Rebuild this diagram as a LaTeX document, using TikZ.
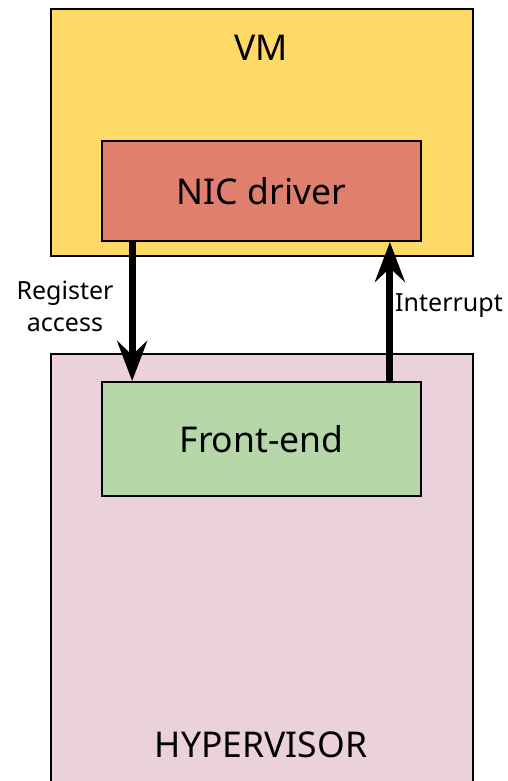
\documentclass[tikz,border=0pt]{standalone}
\usepackage{fontspec}
\setmainfont{Noto Sans}
\usetikzlibrary{calc,arrows.meta}

\tikzset{
  box/.style={draw=black,line width=2pt,inner sep=0pt},
  link/.style={line width=7pt,-{Stealth[length=40pt,width=30pt,inset=14pt]}},
  lab/.style={font=\fontsize{25}{32}\selectfont,align=center,inner sep=0pt}
}
\definecolor{vmyellow}{HTML}{FFD966}
\definecolor{nicred}{HTML}{E07F6E}
\definecolor{hyppink}{HTML}{EAD1DC}
\definecolor{fegreen}{HTML}{B6D7A8}

\begin{document}
\begin{tikzpicture}[x=1pt,y=-1pt]
  \useasboundingbox (0,0) rectangle (508,781);

  % outer boxes
  \node [box,fill=vmyellow,minimum width=422pt,minimum height=247pt,anchor=north west]
    (vm) at (50,8) {};
  \node [box,fill=hyppink,minimum width=422pt,minimum height=440pt,anchor=north west]
    (hyp) at (50,353) {};

  \node [font=\fontsize{35.5}{42}\selectfont] (vmlab) at (261,48) {VM};
  \node [font=\fontsize{35.5}{42}\selectfont] (hyplab) at (261,745) {HYPERVISOR};

  % inner boxes
  \node [box,fill=nicred,minimum width=319pt,minimum height=100pt,anchor=north west,
    font=\fontsize{35.5}{42}\selectfont] (nic) at (101,140) {NIC driver};
  \node [box,fill=fegreen,minimum width=319pt,minimum height=114pt,anchor=north west,
    font=\fontsize{35.5}{42}\selectfont] (fe) at (101,381) {Front-end};

  % connectors
  \coordinate (regtop) at ($(nic.south west)!0.097!(nic.south east)$);
  \coordinate (regbot) at ($(fe.north west)!0.097!(fe.north east)$);
  \coordinate (irqtop) at ($(nic.south west)!0.9!(nic.south east)$);
  \coordinate (irqbot) at ($(fe.north west)!0.9!(fe.north east)$);

  \draw [link] (regtop) -- (regbot);
  \draw [link] (irqbot) -- (irqtop);

  \node [lab] (reglab) at (65,306) {Register\\access};
  \node [lab] (irqlab) at (449,306) {Interrupt};
\end{tikzpicture}
\end{document}
